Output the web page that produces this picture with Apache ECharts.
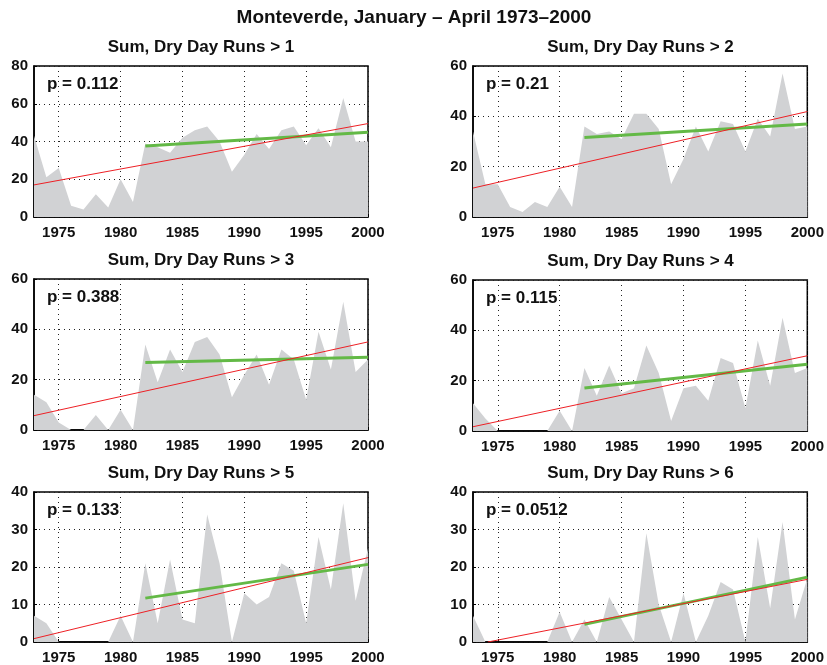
<!DOCTYPE html>
<html><head><meta charset="utf-8">
<script src="https://cdn.jsdelivr.net/npm/echarts@6/dist/echarts.min.js"></script>
<style>html,body{margin:0;padding:0;background:#fff}#c{width:827px;height:665px}</style>
</head><body><div id="c"></div>
<script>
const years = [1973,1974,1975,1976,1977,1978,1979,1980,1981,1982,1983,1984,1985,1986,1987,1988,1989,1990,1991,1992,1993,1994,1995,1996,1997,1998,1999,2000];
const xTicks = [1975,1980,1985,1990,1995,2000];
const mainTitle = 'Monteverde, January \u2013 April 1973\u20132000';
const panelTitles = ['Sum, Dry Day Runs > 1','Sum, Dry Day Runs > 2','Sum, Dry Day Runs > 3','Sum, Dry Day Runs > 4','Sum, Dry Day Runs > 5','Sum, Dry Day Runs > 6'];
const pLabels = ['p = 0.112','p = 0.21','p = 0.388','p = 0.115','p = 0.133','p = 0.0512'];
const yMax = [80,60,60,60,40,40];
const yStep = [20,20,20,20,10,10];

const runs1 = [43,21,26,6,4,12,5,20,8,39,37,34,42,46,48,40,24,33,44,36,46,48,38,47,37,63,40,40];
const runs2 = [34,13,13,4,2,6,4,12,4,36,33,34,31,41,41,35,13,23,36,26,38,37,26,39,32,57,35,36];
const runs3 = [14,11,3,0,0,6,0,8,0,34,19,32,23,35,37,30,13,22,30,18,32,28,12,39,24,51,23,28];
const runs4 = [11,5,0,0,0,0,0,8,0,25,14,26,15,17,34,23,4,17,18,12,29,27,9,36,18,45,23,25];
const runs5 = [7,5,0,0,0,0,0,7,0,21,5,22,6,5,34,21,0,13,10,12,21,19,5,28,14,37,11,25];
const runs6 = [7,0,0,0,0,0,0,8,0,6,0,12,6,0,29,10,0,13,0,7,16,14,0,28,9,32,6,17];
const allRuns = [runs1,runs2,runs3,runs4,runs5,runs6];

// trend line end points: [x0, y0, x1, y1]
const redTrend = [[1973,17,2000,49.5],[1973,11.5,2000,41.9],[1973,5.7,2000,35],[1973,1.7,2000,29.9],[1973,0.9,2000,22.5],[1974.2,0,2000,16.7]];
const greenTrend = [[1982,37.6,2000,44.9],[1982,31.6,2000,37],[1982,26.8,2000,28.9],[1982,17.1,2000,26.5],[1982,11.7,2000,20.7],[1982,4.7,2000,17.3]];

const FONT = '"Liberation Sans", Arial, Helvetica, sans-serif';
const lefts = [34,473];
const tops = [66,279,492];
const W = [334,335];
const H = 151;

const grids = [], xAxes = [], yAxes = [], series = [], graphics = [];
for (let i = 0; i < 6; i++) {
  const col = i % 2, row = Math.floor(i / 2);
  const gl = lefts[col], gt = tops[row] + (i===3?1:0), gw = W[col];
  grids.push({left: gl, top: gt, width: gw, height: H, show: true, borderColor: '#000', borderWidth: 1.5, backgroundColor: 'transparent'});
  xAxes.push({
    type: 'value', gridIndex: i, min: 1973, max: 2000,
    axisLine: {show: true, onZero: false, lineStyle: {color: '#000', width: 1.5}},
    axisTick: {show: true, inside: true, length: 3, customValues: xTicks, lineStyle: {color: '#000'}},
    axisLabel: {show: true, customValues: xTicks, color: '#111', fontFamily: FONT, fontWeight: 'bold', fontSize: 15, margin: 8, formatter: v => String(v)},
    splitLine: {show: true, lineStyle: {color: '#222', type: [1,4], width: 1}}
  });
  yAxes.push({
    type: 'value', gridIndex: i, min: 0, max: yMax[i], interval: yStep[i],
    axisLine: {show: true, lineStyle: {color: '#000', width: 1.5}},
    axisTick: {show: true, inside: true, length: 3, lineStyle: {color: '#000'}},
    axisLabel: {color: '#111', fontFamily: FONT, fontWeight: 'bold', fontSize: 15, margin: 6},
    splitLine: {show: true, lineStyle: {color: '#222', type: [1,4], width: 1}}
  });
  series.push({
    type: 'line', xAxisIndex: i, yAxisIndex: i, symbol: 'none', silent: true,
    data: years.map((y, k) => [y, allRuns[i][k]]),
    lineStyle: {width: 0, color: '#d1d2d4'},
    areaStyle: {color: '#d1d2d4', opacity: 1}, z: 1
  });
  const g = greenTrend[i], r = redTrend[i];
  series.push({
    type: 'line', xAxisIndex: i, yAxisIndex: i, symbol: 'none', silent: true,
    data: [[g[0], g[1]], [g[2], g[3]]],
    lineStyle: {width: 3, color: '#63b946'}, z: 3
  });
  series.push({
    type: 'line', xAxisIndex: i, yAxisIndex: i, symbol: 'none', silent: true,
    data: [[r[0], r[1]], [r[2], r[3]]],
    lineStyle: {width: 1, color: '#ee2025'}, z: 4
  });
  graphics.push({
    type: 'text', x: gl + gw / 2, y: gt - 19, z: 10,
    style: {text: panelTitles[i], fill: '#111', font: 'bold 17px ' + FONT, textAlign: 'center', textVerticalAlign: 'middle'}
  });
  graphics.push({
    type: 'text', x: gl + 13, y: gt + 18, z: 10,
    style: {text: pLabels[i], fill: '#111', font: 'bold 17px ' + FONT, textAlign: 'left', textVerticalAlign: 'middle'}
  });
}
graphics.push({
  type: 'text', x: 414, y: 18, z: 10,
  style: {text: mainTitle, fill: '#111', font: 'bold 19px ' + FONT, textAlign: 'center', textVerticalAlign: 'middle'}
});

const chart = echarts.init(document.getElementById('c'));
chart.setOption({
  animation: false,
  backgroundColor: '#fff',
  grid: grids, xAxis: xAxes, yAxis: yAxes, series: series, graphic: graphics
});
</script></body></html>
